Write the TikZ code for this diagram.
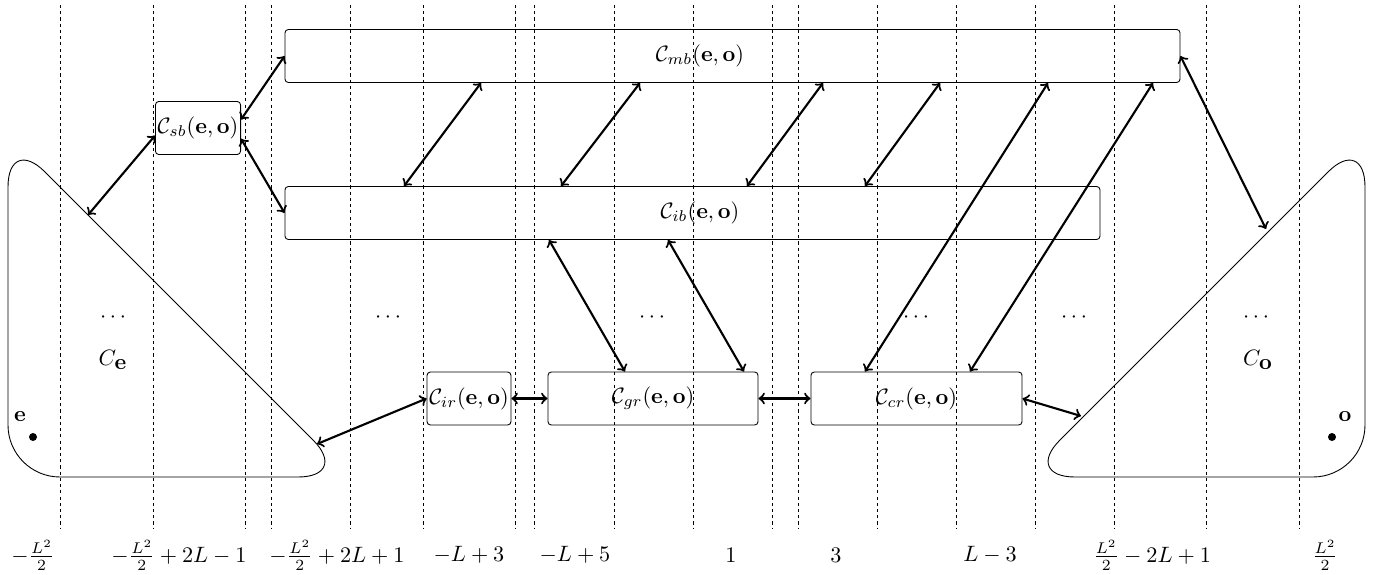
\documentclass[tikz,border=0pt]{standalone}
\begin{document}
\begin{tikzpicture}[x=0.45pt, y=-0.45pt, line join=round, >=to,
	box/.style={draw, rounded corners=1.5pt, inner sep=1pt, minimum height=53*\pxu},
	conn/.style={<->, line width=0.95pt},
	vline/.style={dash pattern=on 1.4pt off 1.4pt}]
	\def\pxu{0.45pt}
	\useasboundingbox (0,0) rectangle (1377,575);
	% vertical grid
	\foreach \x in {60,153,245,271,350,423,515,534,614,693,772,798,877,956,1035,1114,1206,1299}
		\draw[vline] (\x,5) -- (\x,528);
	% bottom labels
	\foreach \x/\t in {33/{-\frac{L^2}{2}}, 179/{-\frac{L^2}{2}+2L-1}, 337/{-\frac{L^2}{2}+2L+1}, 469/{-L+3}, 575/{-L+5}, 731/{1}, 836/{3}, 990/{L-3}, 1152/{\frac{L^2}{2}-2L+1}, 1325/{\frac{L^2}{2}}}
		\node[inner sep=0pt] (lab\x) at (\x,555) {$\t$};
	% the two corner regions
	\draw[rounded corners=52*\pxu] (8,135) -- (8,477) -- (350,477) -- cycle;
	\draw[rounded corners=52*\pxu] (1365,135) -- (1365,477) -- (1023,477) -- cycle;
	\coordinate (eTop) at (88,215);
	\coordinate (eTip) at (317,444);
	\coordinate (oTop) at (1266,229);
	\coordinate (oTip) at (1081,416);
	\fill (33,437) circle (1.8pt) (1332,437) circle (1.8pt);
	\node (e) at (20,417) {$\mathbf{e}$};
	\node (o) at (1345,417) {$\mathbf{o}$};
	\node (Ce) at (113,360) {$C_{\mbox{$\mathbf{e}$}}$};
	\node (Co) at (1258,360) {$C_{\mbox{$\mathbf{o}$}}$};
	\foreach \x in {113,388,652,916,1074,1256}
		\node (dots\x) at (\x,318) {$\cdots$};
	% boxes
	\node[box, minimum width=895*\pxu] (Cmb) at (732.5,56) {};
	\node (Cmblab) at (700,56) {$\mathcal{C}_{mb}(\mathbf{e},\mathbf{o})$};
	\node[box, minimum width=815*\pxu] (Cib) at (692.5,213) {};
	\node (Ciblab) at (700,213) {$\mathcal{C}_{ib}(\mathbf{e},\mathbf{o})$};
	\node[box, minimum width=82*\pxu] (Csb) at (198,128) {$\mathcal{C}_{sb}(\mathbf{e},\mathbf{o})$};
	\node[box, minimum width=80*\pxu] (Cir) at (469,398.5) {$\mathcal{C}_{ir}(\mathbf{e},\mathbf{o})$};
	\node[box, minimum width=210*\pxu] (Cgr) at (653,398.5) {$\mathcal{C}_{gr}(\mathbf{e},\mathbf{o})$};
	\node[box, minimum width=211*\pxu] (Ccr) at (916.5,398.5) {$\mathcal{C}_{cr}(\mathbf{e},\mathbf{o})$};
	% connections
	\draw[conn] (eTop) -- (Csb.190);
	\draw[conn] (Csb.11) -- (Cmb.west);
	\draw[conn] (Csb.346) -- (Cib.west);
	\draw[conn] (eTip) -- (Cir.west);
	\draw[conn] (Cir.east) -- (Cgr.west);
	\draw[conn] (Cgr.east) -- (Ccr.west);
	\draw[conn] (Ccr.east) -- (oTip);
	\draw[conn] (Cmb.east) -- (oTop);
	\foreach \a/\b in {481/404, 640/561, 823/747, 940/865}
		\draw[conn] (Cmb.south -| \a,0) -- (Cib.north -| \b,0);
	\foreach \a/\b in {1048/865, 1153/970}
		\draw[conn] (Cmb.south -| \a,0) -- (Ccr.north -| \b,0);
	\foreach \a/\b in {549/625, 668/744}
		\draw[conn] (Cib.south -| \a,0) -- (Cgr.north -| \b,0);
\end{tikzpicture}
\end{document}
